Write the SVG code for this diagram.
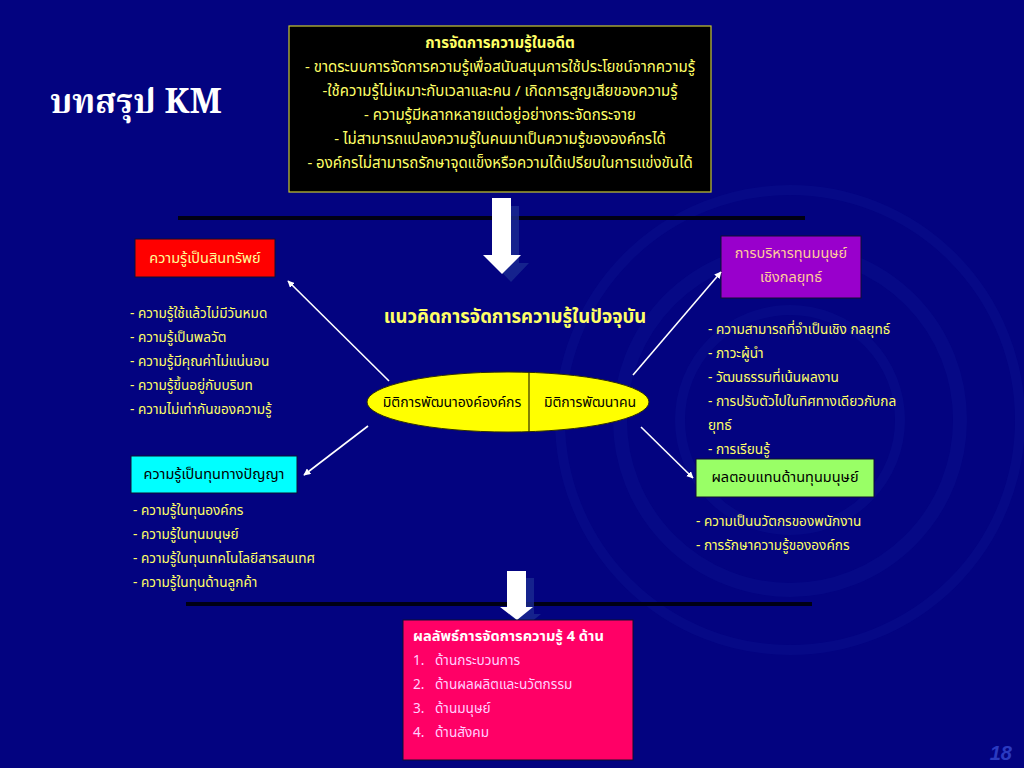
<svg xmlns="http://www.w3.org/2000/svg" width="1024" height="768" viewBox="0 0 1024 768">
<defs>
<style>
.t{font-family:"Noto Sans Thai","Tahoma","Noto Sans","Liberation Sans",sans-serif;font-size:13.6px;fill:#ffff66}
.tb{font-size:15px}
.lb{font-size:14.5px}
.c{text-anchor:middle}
.b{font-weight:bold}
.dk{fill:#000000}
.pk{fill:#ffd0ff}
.conn{stroke:#ffffff;stroke-width:1.6;fill:none;marker-end:url(#ah)}
.hline{stroke:#000014;stroke-width:4}
.box{stroke:#101030;stroke-width:1}
</style>
<marker id="ah" viewBox="0 0 10 10" refX="9" refY="5" markerWidth="7" markerHeight="7" orient="auto" markerUnits="userSpaceOnUse">
<path d="M0,0 L10,5 L0,10 Z" fill="#ffffff"/>
</marker>
</defs>
<rect x="0" y="0" width="1024" height="768" fill="#030380"/>
<g id="background-arcs" fill="none" stroke="#1428a0" stroke-opacity="0.18">
<circle cx="790" cy="420" r="170" stroke-width="14"/>
<circle cx="790" cy="420" r="230" stroke-width="10"/>
<circle cx="790" cy="420" r="110" stroke-width="10"/>
</g>

<g id="title">
<text x="50" y="113" font-family="'Noto Serif Thai','Liberation Serif',serif" font-size="34" font-weight="bold" fill="#ffffff">บทสรุป KM</text>
</g>

<g id="past-km">
<rect x="289" y="26" width="422" height="166" fill="#000000" stroke="#c8c830" stroke-width="1.2"/>
<text class="t tb c b" x="500" y="48">การจัดการความรู้ในอดีต</text>
<text class="t tb c" x="500" y="72">- ขาดระบบการจัดการความรู้เพื่อสนับสนุนการใช้ประโยชน์จากความรู้</text>
<text class="t tb c" x="500" y="96">-ใช้ความรู้ไม่เหมาะกับเวลาและคน / เกิดการสูญเสียของความรู้</text>
<text class="t tb c" x="500" y="120">- ความรู้มีหลากหลายแต่อยู่อย่างกระจัดกระจาย</text>
<text class="t tb c" x="500" y="144">- ไม่สามารถแปลงความรู้ในคนมาเป็นความรู้ขององค์กรได้</text>
<text class="t tb c" x="500" y="168">- องค์กรไม่สามารถรักษาจุดแข็งหรือความได้เปรียบในการแข่งขันได้</text>
</g>

<g id="dividers">
<line class="hline" x1="178" y1="218" x2="805" y2="218"/>
<line class="hline" x1="186" y1="604" x2="812" y2="604"/>
</g>

<g id="arrow-down-1">
<path d="M500,206 L519,206 L519,263 L529,263 L511,282 L493,263 L500,263 Z" fill="#1a2a90" fill-opacity="0.8"/>
<path d="M492,198 L511,198 L511,255 L521,255 L502,274 L483,255 L492,255 Z" fill="#ffffff"/>
</g>

<g id="asset">
<rect class="box" x="135" y="239" width="140" height="38" fill="#ff0000"/>
<text class="t lb c" x="205" y="263" style="fill:#ffff99">ความรู้เป็นสินทรัพย์</text>
</g>
<g id="asset-list">
<text class="t" x="130" y="318">- ความรู้ใช้แล้วไม่มีวันหมด</text>
<text class="t" x="130" y="342">- ความรู้เป็นพลวัต</text>
<text class="t" x="130" y="366">- ความรู้มีคุณค่าไม่แน่นอน</text>
<text class="t" x="130" y="390">- ความรู้ขึ้นอยู่กับบริบท</text>
<text class="t" x="130" y="414">- ความไม่เท่ากันของความรู้</text>
</g>

<g id="current-heading">
<text class="t c b" x="515" y="323" style="font-size:18.5px">แนวคิดการจัดการความรู้ในปัจจุบัน</text>
</g>

<g id="dimensions">
<ellipse cx="508" cy="402" rx="141" ry="30" fill="#ffff00" stroke="#303000" stroke-width="1"/>
<line x1="529" y1="372" x2="529" y2="432" stroke="#303000" stroke-width="1.2"/>
<text class="t c dk" x="452" y="407" style="font-size:14px">มิติการพัฒนาองค์องค์กร</text>
<text class="t c dk" x="590" y="407" style="font-size:14px">มิติการพัฒนาคน</text>
</g>

<g id="strategic-hr">
<rect class="box" x="721" y="236" width="140" height="62" fill="#9900cc"/>
<text class="t lb c" x="791" y="258" style="fill:#ffcc99">การบริหารทุนมนุษย์</text>
<text class="t lb c" x="791" y="282" style="fill:#ffcc99">เชิงกลยุทธ์</text>
</g>
<g id="strategic-hr-list">
<text class="t" x="708" y="334">- ความสามารถที่จำเป็นเชิง กลยุทธ์</text>
<text class="t" x="708" y="358">- ภาวะผู้นำ</text>
<text class="t" x="708" y="382">- วัฒนธรรมที่เน้นผลงาน</text>
<text class="t" x="708" y="406">- การปรับตัวไปในทิศทางเดียวกับกล</text>
<text class="t" x="708" y="430">ยุทธ์</text>
<text class="t" x="708" y="454">- การเรียนรู้</text>
</g>

<g id="intellectual-capital">
<rect class="box" x="131" y="456" width="166" height="37" fill="#00ffff"/>
<text class="t lb c dk" x="214" y="479">ความรู้เป็นทุนทางปัญญา</text>
</g>
<g id="intellectual-capital-list">
<text class="t" x="133" y="515">- ความรู้ในทุนองค์กร</text>
<text class="t" x="133" y="539">- ความรู้ในทุนมนุษย์</text>
<text class="t" x="133" y="563">- ความรู้ในทุนเทคโนโลยีสารสนเทศ</text>
<text class="t" x="133" y="587">- ความรู้ในทุนด้านลูกค้า</text>
</g>

<g id="hr-return">
<rect class="box" x="696" y="459" width="178" height="38" fill="#99ff66"/>
<text class="t lb c dk" x="785" y="482">ผลตอบแทนด้านทุนมนุษย์</text>
</g>
<g id="hr-return-list">
<text class="t" x="696" y="526">- ความเป็นนวัตกรของพนักงาน</text>
<text class="t" x="696" y="550">- การรักษาความรู้ขององค์กร</text>
</g>

<g id="connectors">
<line class="conn" x1="389" y1="381" x2="288" y2="281"/>
<line class="conn" x1="633" y1="375" x2="721" y2="272"/>
<line class="conn" x1="368" y1="426" x2="304" y2="475"/>
<line class="conn" x1="641" y1="427" x2="693" y2="478"/>
</g>

<g id="arrow-down-2">
<path d="M515,578 L534,578 L534,614 L541,614 L525,627 L508,614 L515,614 Z" fill="#1a2a90" fill-opacity="0.8"/>
<path d="M507,571 L526,571 L526,607 L533,607 L517,620 L500,607 L507,607 Z" fill="#ffffff"/>
</g>

<g id="results">
<rect class="box" x="403" y="620" width="230" height="140" fill="#ff0066"/>
<text class="t b" x="413" y="641" style="fill:#ffffff;font-size:14.6px">ผลลัพธ์การจัดการความรู้ 4 ด้าน</text>
<text class="t pk" x="413" y="665">1.</text><text class="t pk" x="435" y="665">ด้านกระบวนการ</text>
<text class="t pk" x="413" y="689">2.</text><text class="t pk" x="435" y="689">ด้านผลผลิตและนวัตกรรม</text>
<text class="t pk" x="413" y="713">3.</text><text class="t pk" x="435" y="713">ด้านมนุษย์</text>
<text class="t pk" x="413" y="737">4.</text><text class="t pk" x="435" y="737">ด้านสังคม</text>
</g>

<g id="slide-number">
<text x="1012" y="760" text-anchor="end" font-family="'Liberation Sans',sans-serif" font-size="20" font-style="italic" font-weight="bold" fill="#2a3ac0">18</text>
</g>
</svg>
